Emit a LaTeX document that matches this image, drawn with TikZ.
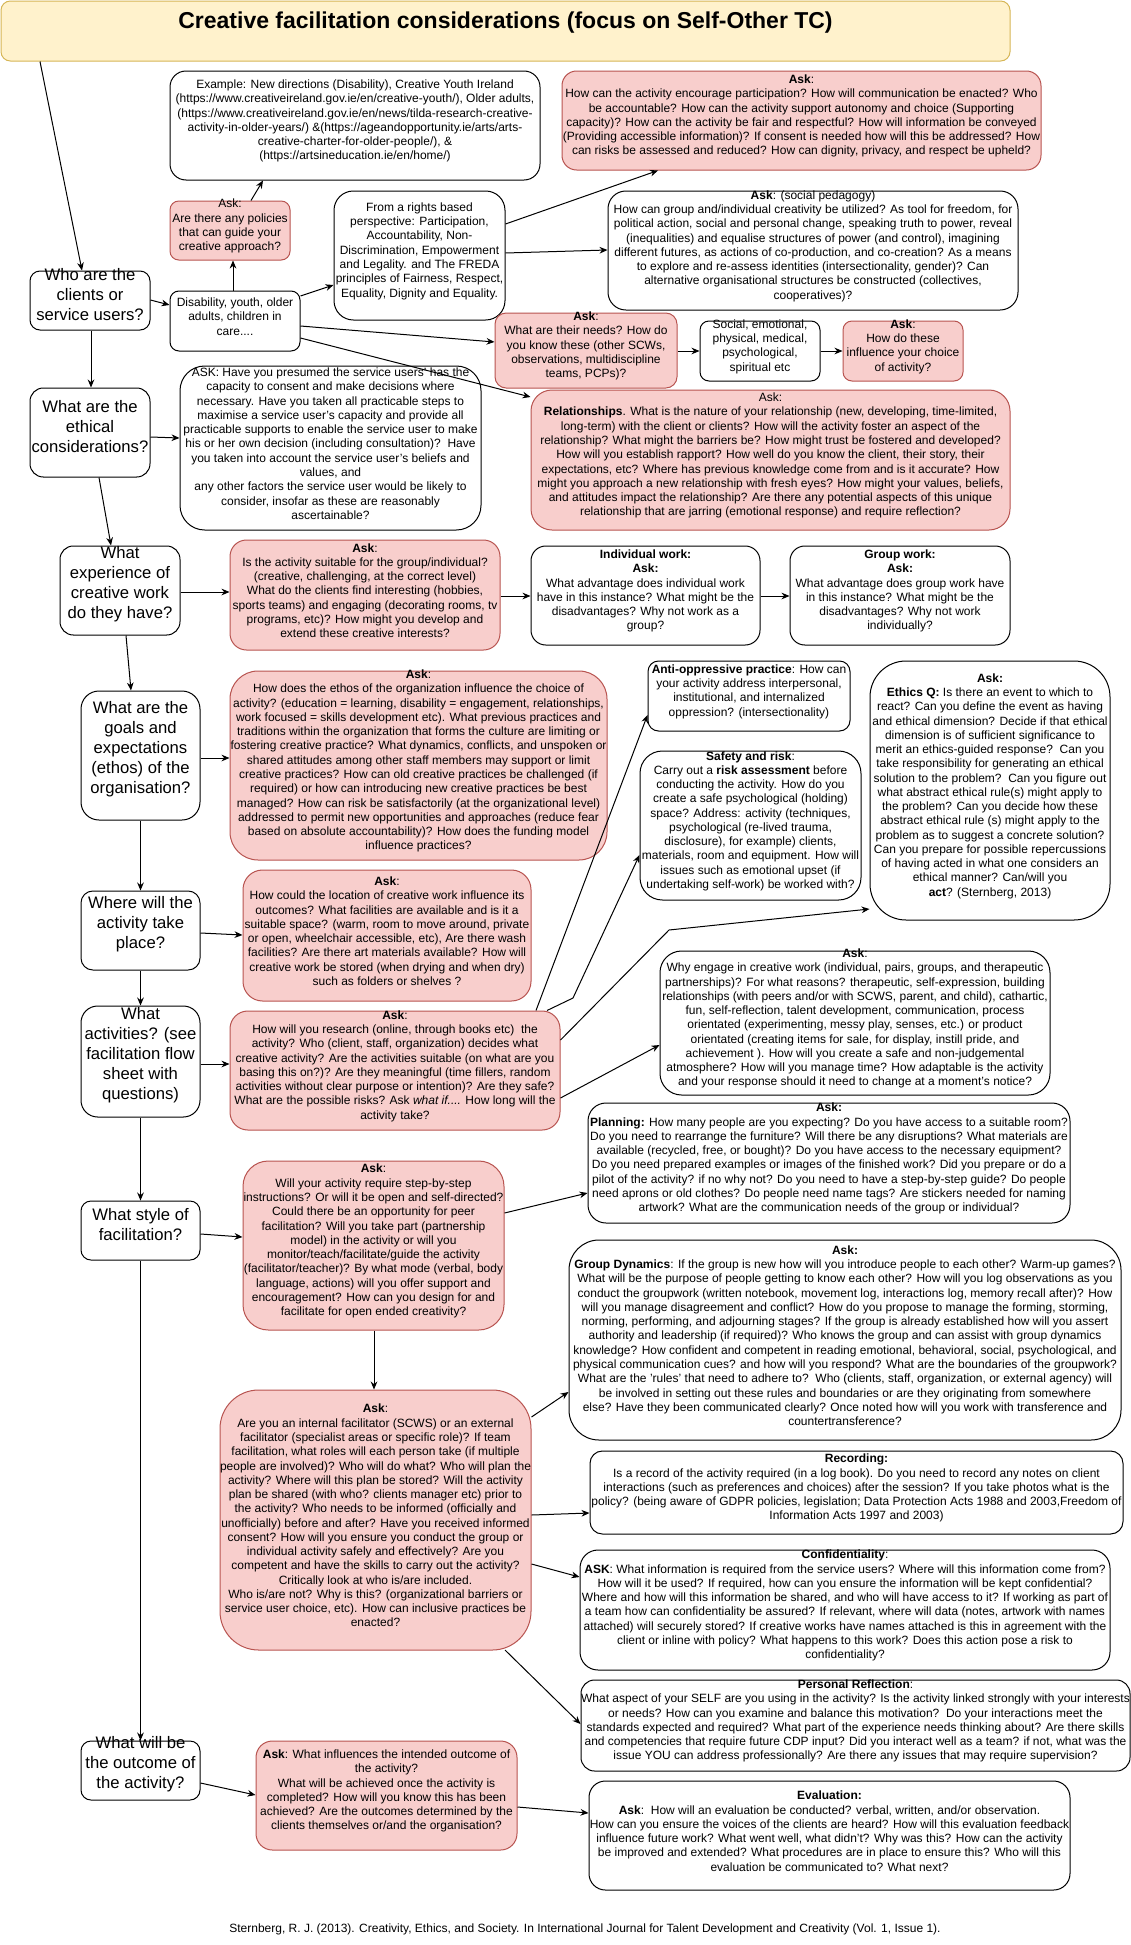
\documentclass[tikz,border=0pt]{standalone}
\usepackage{fontspec}
\setmainfont{Liberation Sans}
\usetikzlibrary{arrows.meta,fit}
\definecolor{pinkfill}{HTML}{F8CECC}
\definecolor{pinkdraw}{HTML}{B85450}
\definecolor{titlefill}{HTML}{FFF2CC}
\definecolor{titledraw}{HTML}{D6B656}
\tikzset{
  base/.style={inner sep=0pt, align=center, line width=0.75pt, font=\fontsize{9}{10.7}\selectfont},
  pinkbox/.style={base, draw=pinkdraw, fill=pinkfill},
  whitebox/.style={base, draw=black, fill=white},
  qbox/.style={base, draw=black, fill=white, font=\fontsize{12.5}{15}\selectfont},
  titlebox/.style={base, draw=titledraw, fill=titlefill, font=\fontsize{17.25}{20}\selectfont\bfseries},
  arr/.style={-{Stealth[length=6pt,width=5pt]}, line width=0.75pt},
  note/.style={inner sep=0pt, font=\fontsize{9}{10.7}\selectfont}
}
\begin{document}
\begin{tikzpicture}[x=0.75pt,y=-0.75pt]
\fill[white] (0,0) rectangle (1131,1945);
\useasboundingbox (0,0) rectangle (1131,1945);

% title
\node[titlebox, rounded corners=7pt, fit={(1,1) (1010,61)}] (title) {Creative facilitation considerations (focus on Self-Other TC)};

% left column questions
\node[qbox, rounded corners=7.5pt, fit={(30,271) (150,330)}] (q1) {Who are the\\clients or\\service users?};
\node[qbox, rounded corners=10pt, fit={(30,388) (150,477)}] (q2) {What are the\\ethical\\considerations?};
\node[qbox, rounded corners=10pt, fit={(60,546) (180,635)}] (q3) {What\\experience of\\creative work\\do they have?};
\node[qbox, rounded corners=13.5pt, fit={(81,691) (200,820)}] (q4) {What are the\\goals and\\expectations\\(ethos) of the\\organisation?};
\node[qbox, rounded corners=8.9pt, fit={(81,891) (200,970)}] (q5) {Where will the\\activity take\\place?};
\node[qbox, rounded corners=12.5pt, fit={(81,1006) (200,1117)}] (q6) {What\\activities? (see\\facilitation flow\\sheet with\\questions)};
\node[qbox, rounded corners=7.5pt, fit={(81,1201) (200,1260)}] (q7) {What style of\\facilitation?};
\node[qbox, rounded corners=7.5pt, fit={(81,1741) (200,1800)}] (q8) {What will be\\the outcome of\\the activity?};

% top cluster
\node[whitebox, rounded corners=6.75pt, fit={(170,291) (300,351)}] (dis) {Disability, youth, older\\adults, children in\\care....};
\node[pinkbox, rounded corners=6.6pt, fit={(170,201) (290,260)}] (pol) {Ask:\\Are there any policies\\that can guide your\\creative approach?};
\node[whitebox, rounded corners=12pt, fit={(170,71) (540,180)}] (ex) {Example: New directions (Disability), Creative Youth Ireland\\(https://www.creativeireland.gov.ie/en/creative-youth/), Older adults,\\(https://www.creativeireland.gov.ie/en/news/tilda-research-creative-\\activity-in-older-years/) \&(https://ageandopportunity.ie/arts/arts-\\creative-charter-for-older-people/), \&\\(https://artsineducation.ie/en/home/)};
\node[whitebox, rounded corners=14.5pt, fit={(334,191) (505,320)}] (rights) {From a rights based\\perspective: Participation,\\Accountability, Non-\\Discrimination, Empowerment\\and Legality. and The FREDA\\principles of Fairness, Respect,\\Equality, Dignity and Equality.};
\node[pinkbox, rounded corners=11pt, fit={(562,71) (1041,170)}] (part) {\textbf{Ask}:\\How can the activity encourage participation? How will communication be enacted? Who\\be accountable? How can the activity support autonomy and choice (Supporting\\capacity)? How can the activity be fair and respectful? How will information be conveyed\\(Providing accessible information)? If consent is needed how will this be addressed? How\\can risks be assessed and reduced? How can dignity, privacy, and respect be upheld?};
\node[whitebox, rounded corners=13.4pt, fit={(608,191) (1018,310)}] (socped) {\textbf{Ask}: (social pedagogy)\\How can group and/individual creativity be utilized? As tool for freedom, for\\political action, social and personal change, speaking truth to power, reveal\\(inequalities) and equalise structures of power (and control), imagining\\different futures, as actions of co-production, and co-creation? As a means\\to explore and re-assess identities (intersectionality, gender)? Can\\alternative organisational structures be constructed (collectives,\\cooperatives)?};
\node[pinkbox, rounded corners=8.4pt, fit={(495,313) (677,388)}] (needs) {\textbf{Ask}:\\What are their needs? How do\\you know these (other SCWs,\\observations, multidiscipline\\teams, PCPs)?};
\node[whitebox, rounded corners=6.75pt, fit={(700,321) (820,381)}] (se) {Social, emotional,\\physical, medical,\\psychological,\\spiritual etc};
\node[pinkbox, rounded corners=6.75pt, fit={(843,321) (963,381)}] (how) {\textbf{Ask}:\\How do these\\influence your choice\\of activity?};
\node[pinkbox, rounded corners=15.75pt, fit={(531,390) (1010,530)}] (rel) {Ask:\\\textbf{Relationships}. What is the nature of your relationship (new, developing, time-limited,\\long-term) with the client or clients? How will the activity foster an aspect of the\\relationship? What might the barriers be? How might trust be fostered and developed?\\How will you establish rapport? How well do you know the client, their story, their\\expectations, etc? Where has previous knowledge come from and is it accurate? How\\might you approach a new relationship with fresh eyes? How might your values, beliefs,\\and attitudes impact the relationship? Are there any potential aspects of this unique\\relationship that are jarring (emotional response) and require reflection?};
\node[whitebox, rounded corners=18.5pt, fit={(180,366) (481,530)}] (cap) {ASK: Have you presumed the service users’ has the\\capacity to consent and make decisions where\\necessary. Have you taken all practicable steps to\\maximise a service user’s capacity and provide all\\practicable supports to enable the service user to make\\his or her own decision (including consultation)?\ \ Have\\you taken into account the service user’s beliefs and\\values, and\\any other factors the service user would be likely to\\consider, insofar as these are reasonably\\ascertainable?};

% experience row
\node[pinkbox, rounded corners=12.4pt, fit={(230,540) (500,650)}] (suit) {\textbf{Ask}:\\Is the activity suitable for the group/individual?\\(creative, challenging, at the correct level)\\What do the clients find interesting (hobbies,\\sports teams) and engaging (decorating rooms, tv\\programs, etc)? How might you develop and\\extend these creative interests?};
\node[whitebox, rounded corners=11.1pt, fit={(531,546) (760,645)}] (ind) {\textbf{Individual work:}\\\textbf{Ask:}\\What advantage does individual work\\have in this instance? What might be the\\disadvantages? Why not work as a\\group?};
\node[whitebox, rounded corners=11.1pt, fit={(790,546) (1010,645)}] (grp) {\textbf{Group work:}\\\textbf{Ask:}\\What advantage does group work have\\in this instance? What might be the\\disadvantages? Why not work\\individually?};

% ethos / location / activities
\node[pinkbox, rounded corners=21pt, fit={(230,671) (607,860)}] (ethos) {\textbf{Ask}:\\How does the ethos of the organization influence the choice of\\activity? (education = learning, disability = engagement, relationships,\\work focused = skills development etc). What previous practices and\\traditions within the organization that forms the culture are limiting or\\fostering creative practice? What dynamics, conflicts, and unspoken or\\shared attitudes among other staff members may support or limit\\creative practices? How can old creative practices be challenged (if\\required) or how can introducing new creative practices be best\\managed? How can risk be satisfactorily (at the organizational level)\\addressed to permit new opportunities and approaches (reduce fear\\based on absolute accountability)? How does the funding model\\influence practices?};
\node[whitebox, rounded corners=7.9pt, fit={(648,661) (850,731)}] (anti) {\textbf{Anti-oppressive practice}: How can\\your activity address interpersonal,\\institutional, and internalized\\oppression? (intersectionality)};
\node[whitebox, rounded corners=16.8pt, fit={(640,751) (861,900)}] (safe) {\textbf{Safety and risk}:\\Carry out a \textbf{risk assessment} before\\conducting the activity. How do you\\create a safe psychological (holding)\\space? Address: activity (techniques,\\psychological (re-lived trauma,\\disclosure), for example) clients,\\materials, room and equipment. How will\\issues such as emotional upset (if\\undertaking self-work) be worked with?};
\node[whitebox, rounded corners=27pt, fit={(870,661) (1110,920)}] (ethics) {\textbf{Ask:}\\\textbf{Ethics Q:} Is there an event to which to\\react? Can you define the event as having\\and ethical dimension? Decide if that ethical\\dimension is of sufficient significance to\\merit an ethics-guided response?\ \ Can you\\take responsibility for generating an ethical\\solution to the problem?\ \ Can you figure out\\what abstract ethical rule(s) might apply to\\the problem? Can you decide how these\\abstract ethical rule (s) might apply to the\\problem as to suggest a concrete solution?\\Can you prepare for possible repercussions\\of having acted in what one considers an\\ethical manner? Can/will you\\\textbf{act}? (Sternberg, 2013)};
\node[pinkbox, rounded corners=14.7pt, fit={(243,870) (531,1001)}] (loc) {\textbf{Ask}:\\How could the location of creative work influence its\\outcomes? What facilities are available and is it a\\suitable space? (warm, room to move around, private\\or open, wheelchair accessible, etc), Are there wash\\facilities? Are there art materials available? How will\\creative work be stored (when drying and when dry)\\such as folders or shelves ?};
\node[whitebox, rounded corners=16.2pt, fit={(660,951) (1050,1095)}] (why) {\textbf{Ask}:\\Why engage in creative work (individual, pairs, groups, and therapeutic\\partnerships)? For what reasons? therapeutic, self-expression, building\\relationships (with peers and/or with SCWS, parent, and child), cathartic,\\fun, self-reflection, talent development, communication, process\\orientated (experimenting, messy play, senses, etc.) or product\\orientated (creating items for sale, for display, instill pride, and\\achievement ). How will you create a safe and non-judgemental\\atmosphere? How will you manage time? How adaptable is the activity\\and your response should it need to change at a moment's notice?};
\node[pinkbox, rounded corners=13.4pt, fit={(230,1011) (560,1130)}] (res) {\textbf{Ask}:\\How will you research (online, through books etc)\ \ the\\activity? Who (client, staff, organization) decides what\\creative activity? Are the activities suitable (on what are you\\basing this on?)? Are they meaningful (time fillers, random\\activities without clear purpose or intention)? Are they safe?\\What are the possible risks? Ask \textit{what if....} How long will the\\activity take?};

% facilitation
\node[whitebox, rounded corners=13.5pt, fit={(588,1103) (1070,1223)}] (plan) {\textbf{Ask:}\\\textbf{Planning:} How many people are you expecting? Do you have access to a suitable room?\\Do you need to rearrange the furniture? Will there be any disruptions? What materials are\\available (recycled, free, or bought)? Do you have access to the necessary equipment?\\Do you need prepared examples or images of the finished work? Did you prepare or do a\\pilot of the activity? if no why not? Do you need to have a step-by-step guide? Do people\\need aprons or old clothes? Do people need name tags? Are stickers needed for naming\\artwork? What are the communication needs of the group or individual?};
\node[pinkbox, rounded corners=19pt, fit={(243,1161) (504,1330)}] (style) {\textbf{Ask}:\\Will your activity require step-by-step\\instructions? Or will it be open and self-directed?\\Could there be an opportunity for peer\\facilitation? Will you take part (partnership\\model) in the activity or will you\\monitor/teach/facilitate/guide the activity\\(facilitator/teacher)? By what mode (verbal, body\\language, actions) will you offer support and\\encouragement? How can you design for and\\facilitate for open ended creativity?};
\node[whitebox, rounded corners=22.5pt, fit={(569,1240) (1121,1440)}] (gd) {\textbf{Ask:}\\\textbf{Group Dynamics}: If the group is new how will you introduce people to each other? Warm-up games?\\What will be the purpose of people getting to know each other? How will you log observations as you\\conduct the groupwork (written notebook, movement log, interactions log, memory recall after)? How\\will you manage disagreement and conflict? How do you propose to manage the forming, storming,\\norming, performing, and adjourning stages? If the group is already established how will you assert\\authority and leadership (if required)? Who knows the group and can assist with group dynamics\\knowledge? How confident and competent in reading emotional, behavioral, social, psychological, and\\physical communication cues? and how will you respond? What are the boundaries of the groupwork?\\What are the 'rules' that need to adhere to?\ \ Who (clients, staff, organization, or external agency) will\\be involved in setting out these rules and boundaries or are they originating from somewhere\\else? Have they been communicated clearly? Once noted how will you work with transference and\\countertransference?};
\node[whitebox, rounded corners=9.3pt, fit={(590,1451) (1123,1534)}] (rec) {\textbf{Recording:}\\Is a record of the activity required (in a log book). Do you need to record any notes on client\\interactions (such as preferences and choices) after the session? If you take photos what is the\\policy? (being aware of GDPR policies, legislation; Data Protection Acts 1988 and 2003,Freedom of\\Information Acts 1997 and 2003)};
\node[pinkbox, rounded corners=29pt, fit={(220,1390) (531,1650)}] (big) {\textbf{Ask}:\\Are you an internal facilitator (SCWS) or an external\\facilitator (specialist areas or specific role)? If team\\facilitation, what roles will each person take (if multiple\\people are involved)? Who will do what? Who will plan the\\activity? Where will this plan be stored? Will the activity\\plan be shared (with who? clients manager etc) prior to\\the activity? Who needs to be informed (officially and\\unofficially) before and after? Have you received informed\\consent? How will you ensure you conduct the group or\\individual activity safely and effectively? Are you\\competent and have the skills to carry out the activity?\\Critically look at who is/are included.\\Who is/are not? Why is this? (organizational barriers or\\service user choice, etc). How can inclusive practices be\\enacted?};
\node[whitebox, rounded corners=13.5pt, fit={(580,1550) (1110,1670)}] (conf) {\textbf{Confidentiality}:\\\textbf{ASK}: What information is required from the service users? Where will this information come from?\\How will it be used? If required, how can you ensure the information will be kept confidential?\\Where and how will this information be shared, and who will have access to it? If working as part of\\a team how can confidentiality be assured? If relevant, where will data (notes, artwork with names\\attached) will securely stored? If creative works have names attached is this in agreement with the\\client or inline with policy? What happens to this work? Does this action pose a risk to\\confidentiality?};
\node[whitebox, rounded corners=10.2pt, fit={(581,1680) (1130,1771)}] (pr) {\textbf{Personal Reflection}:\\What aspect of your SELF are you using in the activity? Is the activity linked strongly with your interests\\or needs? How can you examine and balance this motivation?\ \ Do your interactions meet the\\standards expected and required? What part of the experience needs thinking about? Are there skills\\and competencies that require future CDP input? Did you interact well as a team? if not, what was the\\issue YOU can address professionally? Are there any issues that may require supervision?};
\node[pinkbox, rounded corners=12.3pt, fit={(256,1741) (517,1850)}] (out) {\textbf{Ask}: What influences the intended outcome of\\the activity?\\What will be achieved once the activity is\\completed? How will you know this has been\\achieved? Are the outcomes determined by the\\clients themselves or/and the organisation?};
\node[whitebox, rounded corners=12.3pt, fit={(589,1781) (1070,1890)}] (eval) {\textbf{Evaluation:}\\\textbf{Ask}:\ \ How will an evaluation be conducted? verbal, written, and/or observation.\\How can you ensure the voices of the clients are heard? How will this evaluation feedback\\influence future work? What went well, what didn't? Why was this? How can the activity\\be improved and extended? What procedures are in place to ensure this? Who will this\\evaluation be communicated to? What next?};

\node[note] (foot) at (585,1929) {Sternberg, R. J. (2013). Creativity, Ethics, and Society. In International Journal for Talent Development and Creativity (Vol. 1, Issue 1).};

% connectors
\draw[arr] (title.south -| 40,0) -- (q1.north -| 82,0);
\draw[arr] (q1.east |- 0,300) -- (dis.west |- 0,305);
\draw[arr] (dis.north -| 233,0) -- (pol.south -| 233,0);
\draw[arr] (pol.north -| 251,0) -- (ex.south -| 263,0);
\draw[arr] (dis.east |- 0,296) -- (rights.west |- 0,285);
\draw[arr] (rights.east |- 0,224) -- (part.south -| 658,0);
\draw[arr] (rights.east |- 0,253) -- (socped.west |- 0,250);
\draw[arr] (dis.east |- 0,326) -- (needs.west |- 0,342);
\draw[arr] (dis.east |- 0,338) -- (rel.west |- 0,397);
\draw[arr] (needs.east |- 0,351) -- (se.west |- 0,351);
\draw[arr] (se.east |- 0,351) -- (how.west |- 0,351);
\draw[arr] (q1.south -| 91,0) -- (q2.north -| 91,0);
\draw[arr] (q2.east |- 0,437) -- (cap.west |- 0,438);
\draw[arr] (q2.south -| 99,0) -- (q3.north -| 111,0);
\draw[arr] (q3.east |- 0,592) -- (suit.west |- 0,592);
\draw[arr] (suit.east |- 0,596) -- (ind.west |- 0,596);
\draw[arr] (ind.east |- 0,596) -- (grp.west |- 0,596);
\draw[arr] (q3.south -| 126,0) -- (q4.north -| 131,0);
\draw[arr] (q4.east |- 0,758) -- (ethos.west |- 0,758);
\draw[arr] (q4.south -| 140.5,0) -- (q5.north -| 140.5,0);
\draw[arr] (q5.east |- 0,933) -- (loc.west |- 0,935);
\draw[arr] (q5.south -| 140.5,0) -- (q6.north -| 140.5,0);
\draw[arr] (q6.east |- 0,1064) -- (res.west |- 0,1064);
\draw[arr] (res.north -| 536,0) -- (anti.west |- 0,715);
\draw[arr] (res.north -| 547,0) -- (573,998) -- (safe.west |- 0,855);
\draw[arr] (res.east |- 0,1040) -- (669,930) -- (ethics.west |- 0,909);
\draw[arr] (res.east |- 0,1098) -- (why.west |- 0,1045);
\draw[arr] (q6.south -| 140.5,0) -- (q7.north -| 140.5,0);
\draw[arr] (q7.east |- 0,1234) -- (style.west |- 0,1237);
\draw[arr] (style.east |- 0,1213) -- (plan.west |- 0,1193);
\draw[arr] (style.south -| 374,0) -- (big.north -| 374,0);
\draw[arr] (q7.south -| 140.5,0) -- (q8.north -| 140.5,0);
\draw[arr] (big.east |- 0,1417) -- (gd.west |- 0,1392);
\draw[arr] (big.east |- 0,1515) -- (rec.west |- 0,1513);
\draw[arr] (big.east |- 0,1564) -- (conf.west |- 0,1577);
\draw[arr] (505,1650) -- (pr.west |- 0,1724);
\draw[arr] (q8.east |- 0,1783) -- (out.west |- 0,1795);
\draw[arr] (out.east |- 0,1807) -- (eval.west |- 0,1813);
\end{tikzpicture}
\end{document}
